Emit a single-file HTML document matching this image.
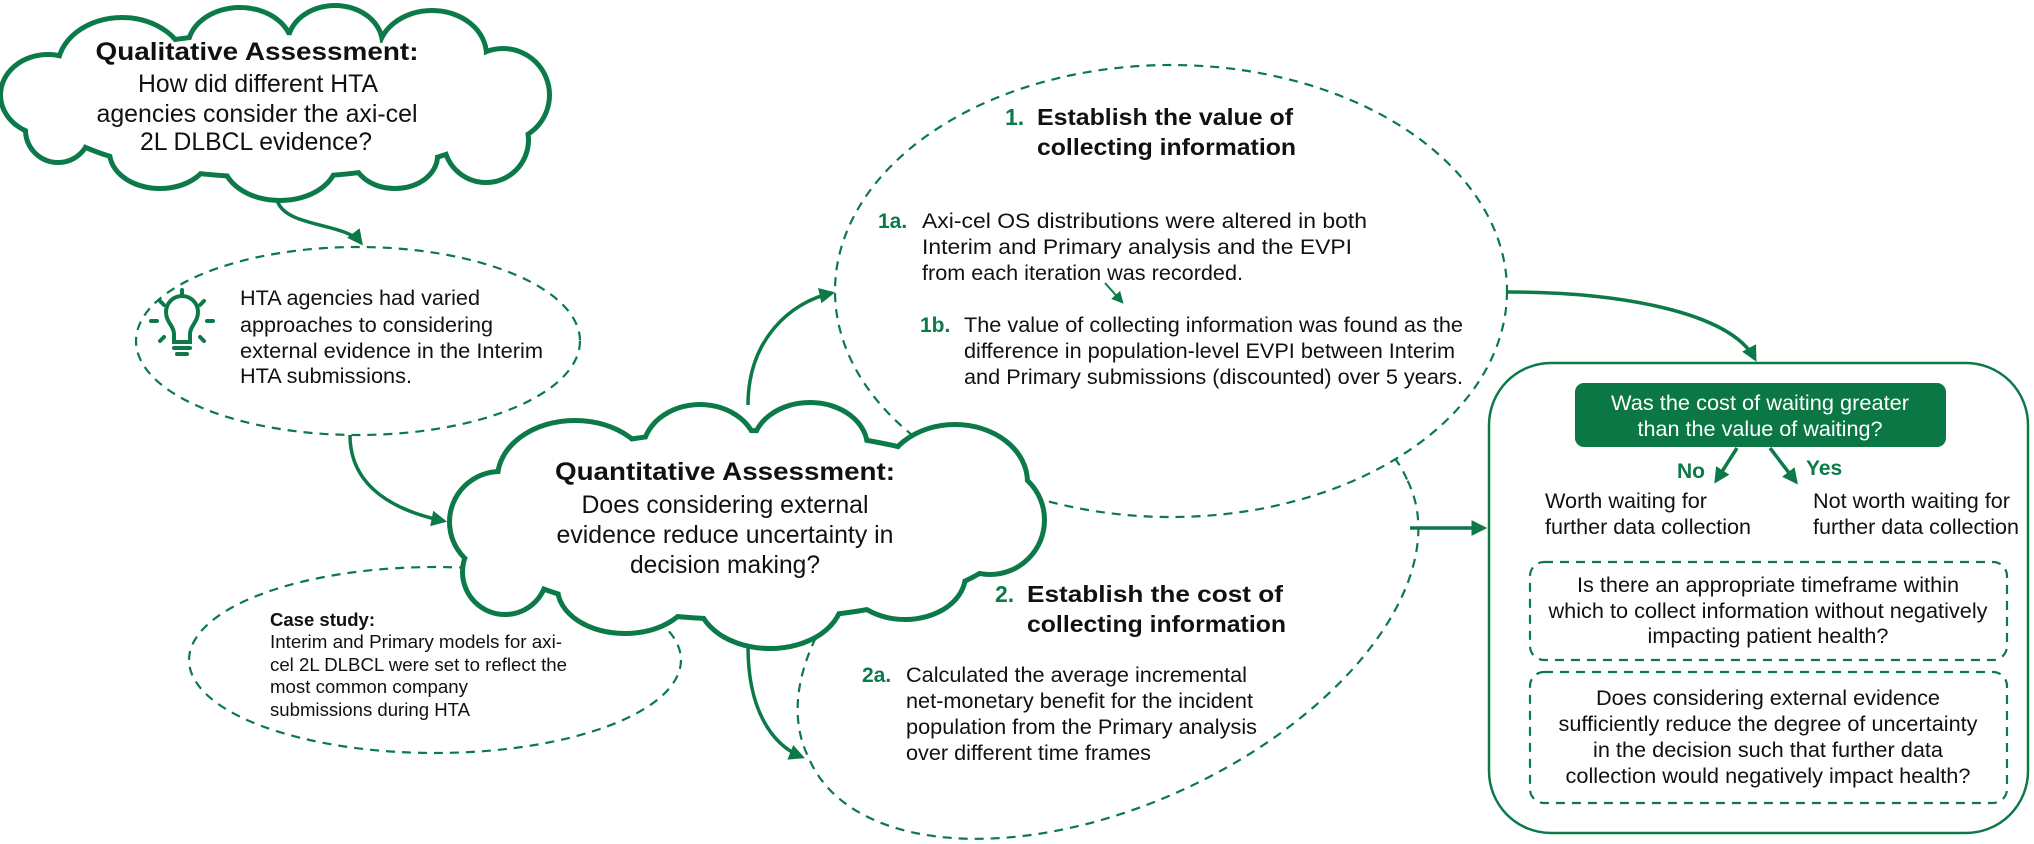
<!DOCTYPE html>
<html><head><meta charset="utf-8"><style>
html,body{margin:0;padding:0;background:#fff;overflow:hidden;}
svg{display:block;}
text{font-family:"Liberation Sans",Arial,sans-serif;fill:#111;}
.b{font-weight:bold;}
.g{fill:#0b7a48;font-weight:bold;}
.w{fill:#fff;}
</style></head><body>
<svg width="2034" height="844" viewBox="0 0 2034 844" xmlns="http://www.w3.org/2000/svg">
<defs>
<marker id="ah" viewBox="0 0 10 10" refX="8" refY="5" markerWidth="4.5" markerHeight="4.5" orient="auto-start-reverse">
<path d="M0,0 L10,5 L0,10 z" fill="#0b7a48"/></marker>
<marker id="ahs" viewBox="0 0 10 10" refX="8" refY="5" markerWidth="6" markerHeight="6" orient="auto">
<path d="M0,0 L10,5 L0,10 z" fill="#0b7a48"/></marker>
</defs>

<!-- dashed ellipses -->
<g fill="none" stroke="#0b7a48" stroke-width="2.2" stroke-dasharray="9 7">
<ellipse cx="435" cy="660" rx="246" ry="93"/>
<ellipse cx="358" cy="341" rx="222" ry="94" fill="#fff"/>
<path d="M1407,479.5 A330,183 -25 1 0 809,758.5 A330,183 -25 1 0 1407,479.5 Z"/>
<ellipse cx="1171" cy="291" rx="336" ry="226" fill="#fff"/>
</g>

<!-- connectors -->
<g fill="none" stroke="#0b7a48" stroke-width="3.5">
<path d="M277,200 C285,228 345,222 361,243" marker-end="url(#ah)"/>
<path d="M350,435 C350,490 400,512 444,521" marker-end="url(#ah)"/>
<path d="M748,405 C748,340 790,302 832,293" marker-end="url(#ah)"/>
<path d="M748,647 C748,710 772,745 802,757" marker-end="url(#ah)"/>
<path d="M1507,292 C1620,292 1730,312 1755,359" marker-end="url(#ah)"/>
<path d="M1410,528 L1484,528" marker-end="url(#ah)"/>
</g>
<path d="M1105,283 L1122,302" stroke="#0b7a48" stroke-width="2" fill="none" marker-end="url(#ahs)"/>

<!-- top cloud -->
<g stroke="#0b7a48" stroke-width="10" fill="#0b7a48">
<ellipse cx="122" cy="68" rx="62" ry="48"/><ellipse cx="240" cy="48" rx="50" ry="38"/><ellipse cx="335" cy="44" rx="45" ry="36"/>
<ellipse cx="432" cy="55" rx="52" ry="42"/><circle cx="503" cy="95" r="44"/><circle cx="486" cy="140" r="40"/>
<ellipse cx="395" cy="156" rx="40" ry="30"/><ellipse cx="280" cy="160" rx="55" ry="38"/><ellipse cx="160" cy="152" rx="48" ry="34"/>
<circle cx="58" cy="130" r="30"/><ellipse cx="48" cy="95" rx="45" ry="38"/><ellipse cx="275" cy="105" rx="230" ry="70"/>
</g>
<g fill="#fff">
<ellipse cx="122" cy="68" rx="62" ry="48"/><ellipse cx="240" cy="48" rx="50" ry="38"/><ellipse cx="335" cy="44" rx="45" ry="36"/>
<ellipse cx="432" cy="55" rx="52" ry="42"/><circle cx="503" cy="95" r="44"/><circle cx="486" cy="140" r="40"/>
<ellipse cx="395" cy="156" rx="40" ry="30"/><ellipse cx="280" cy="160" rx="55" ry="38"/><ellipse cx="160" cy="152" rx="48" ry="34"/>
<circle cx="58" cy="130" r="30"/><ellipse cx="48" cy="95" rx="45" ry="38"/><ellipse cx="275" cy="105" rx="230" ry="70"/>
</g>

<!-- quant cloud -->
<g stroke="#0b7a48" stroke-width="10" fill="#0b7a48">
<circle cx="500" cy="522" r="48"/><ellipse cx="575" cy="478" rx="75" ry="55"/><ellipse cx="700" cy="452" rx="55" ry="45"/>
<ellipse cx="810" cy="447" rx="55" ry="42"/><ellipse cx="955" cy="482" rx="70" ry="55"/><circle cx="990" cy="520" r="52"/>
<ellipse cx="905" cy="575" rx="58" ry="42"/><ellipse cx="770" cy="598" rx="70" ry="48"/><ellipse cx="625" cy="588" rx="65" ry="43"/>
<circle cx="505" cy="572" r="40"/><ellipse cx="745" cy="525" rx="270" ry="92"/>
</g>
<g fill="#fff">
<circle cx="500" cy="522" r="48"/><ellipse cx="575" cy="478" rx="75" ry="55"/><ellipse cx="700" cy="452" rx="55" ry="45"/>
<ellipse cx="810" cy="447" rx="55" ry="42"/><ellipse cx="955" cy="482" rx="70" ry="55"/><circle cx="990" cy="520" r="52"/>
<ellipse cx="905" cy="575" rx="58" ry="42"/><ellipse cx="770" cy="598" rx="70" ry="48"/><ellipse cx="625" cy="588" rx="65" ry="43"/>
<circle cx="505" cy="572" r="40"/><ellipse cx="745" cy="525" rx="270" ry="92"/>
</g>

<!-- lightbulb -->
<g stroke="#0b7a48" stroke-width="4" fill="none" stroke-linecap="round">
<path d="M174,342 L174,334 C174,326 166,322 166,312 A16,16 0 1 1 198,312 C198,322 190,326 190,334 L190,342 Z"/>
<line x1="174" y1="348" x2="190" y2="348"/>
<line x1="177" y1="354" x2="187" y2="354"/>
<line x1="182" y1="290" x2="182" y2="296"/>
<line x1="160" y1="301" x2="164" y2="305"/><line x1="204" y1="301" x2="200" y2="305"/>
<line x1="151" y1="321" x2="157" y2="321"/><line x1="207" y1="321" x2="213" y2="321"/>
<line x1="160" y1="341" x2="164" y2="337"/><line x1="204" y1="341" x2="200" y2="337"/>
</g>

<!-- right box -->
<rect x="1489" y="363" width="539" height="470" rx="62" fill="none" stroke="#0b7a48" stroke-width="2.5"/>
<rect x="1575" y="383" width="371" height="64" rx="9" fill="#0a7745"/>
<rect x="1530" y="562" width="477" height="98" rx="14" fill="none" stroke="#0b7a48" stroke-width="2.2" stroke-dasharray="9 7"/>
<rect x="1530" y="672" width="477" height="131" rx="14" fill="none" stroke="#0b7a48" stroke-width="2.2" stroke-dasharray="9 7"/>
<g stroke="#0b7a48" stroke-width="3.5" fill="none">
<path d="M1737,448 L1716,481" marker-end="url(#ah)"/>
<path d="M1770,448 L1796,482" marker-end="url(#ah)"/>
</g>

<!-- text: top cloud -->
<g text-anchor="middle" font-size="25">
<text x="257" y="60" class="b" textLength="323" lengthAdjust="spacingAndGlyphs">Qualitative Assessment:</text>
<text x="258" y="92" textLength="240" lengthAdjust="spacingAndGlyphs">How did different HTA</text>
<text x="257" y="122" textLength="321" lengthAdjust="spacingAndGlyphs">agencies consider the axi-cel</text>
<text x="256" y="150" textLength="232" lengthAdjust="spacingAndGlyphs">2L DLBCL evidence?</text>
</g>
<g font-size="21">
<text x="240" y="305" textLength="240" lengthAdjust="spacingAndGlyphs">HTA agencies had varied</text>
<text x="240" y="332" textLength="253" lengthAdjust="spacingAndGlyphs">approaches to considering</text>
<text x="240" y="358" textLength="303" lengthAdjust="spacingAndGlyphs">external evidence in the Interim</text>
<text x="240" y="383" textLength="172" lengthAdjust="spacingAndGlyphs">HTA submissions.</text>
</g>
<g text-anchor="middle" font-size="25">
<text x="725" y="480" class="b" textLength="340" lengthAdjust="spacingAndGlyphs">Quantitative Assessment:</text>
<text x="725" y="513" textLength="287" lengthAdjust="spacingAndGlyphs">Does considering external</text>
<text x="725" y="543" textLength="337" lengthAdjust="spacingAndGlyphs">evidence reduce uncertainty in</text>
<text x="725" y="573" textLength="190" lengthAdjust="spacingAndGlyphs">decision making?</text>
</g>
<g font-size="18">
<text x="270" y="626" class="b" textLength="105" lengthAdjust="spacingAndGlyphs">Case study:</text>
<text x="270" y="648" textLength="292" lengthAdjust="spacingAndGlyphs">Interim and Primary models for axi-</text>
<text x="270" y="671" textLength="297" lengthAdjust="spacingAndGlyphs">cel 2L DLBCL were set to reflect the</text>
<text x="270" y="693" textLength="198" lengthAdjust="spacingAndGlyphs">most common company</text>
<text x="270" y="716" textLength="200" lengthAdjust="spacingAndGlyphs">submissions during HTA</text>
</g>

<!-- ellipse 1 text -->
<g font-size="23">
<text x="1005" y="125" class="g">1.</text>
<text x="1037" y="125" class="b" textLength="256" lengthAdjust="spacingAndGlyphs">Establish the value of</text>
<text x="1037" y="155" class="b" textLength="259" lengthAdjust="spacingAndGlyphs">collecting information</text>
</g>
<g font-size="21">
<text x="878" y="228" class="g">1a.</text>
<text x="922" y="228" textLength="445" lengthAdjust="spacingAndGlyphs">Axi-cel OS distributions were altered in both</text>
<text x="922" y="254" textLength="430" lengthAdjust="spacingAndGlyphs">Interim and Primary analysis and the EVPI</text>
<text x="922" y="280" textLength="321" lengthAdjust="spacingAndGlyphs">from each iteration was recorded.</text>
<text x="920" y="332" class="g">1b.</text>
<text x="964" y="332" textLength="499" lengthAdjust="spacingAndGlyphs">The value of collecting information was found as the</text>
<text x="964" y="358" textLength="491" lengthAdjust="spacingAndGlyphs">difference in population-level EVPI between Interim</text>
<text x="964" y="384" textLength="499" lengthAdjust="spacingAndGlyphs">and Primary submissions (discounted) over 5 years.</text>
</g>

<!-- ellipse 2 text -->
<g font-size="23">
<text x="995" y="602" class="g">2.</text>
<text x="1027" y="602" class="b" textLength="256" lengthAdjust="spacingAndGlyphs">Establish the cost of</text>
<text x="1027" y="632" class="b" textLength="259" lengthAdjust="spacingAndGlyphs">collecting information</text>
</g>
<g font-size="21">
<text x="862" y="682" class="g">2a.</text>
<text x="906" y="682" textLength="341" lengthAdjust="spacingAndGlyphs">Calculated the average incremental</text>
<text x="906" y="708" textLength="347" lengthAdjust="spacingAndGlyphs">net-monetary benefit for the incident</text>
<text x="906" y="734" textLength="351" lengthAdjust="spacingAndGlyphs">population from the Primary analysis</text>
<text x="906" y="760" textLength="245" lengthAdjust="spacingAndGlyphs">over different time frames</text>
</g>

<!-- right box text -->
<g font-size="21" text-anchor="middle">
<text x="1760" y="410" class="w" textLength="298" lengthAdjust="spacingAndGlyphs">Was the cost of waiting greater</text>
<text x="1760" y="436" class="w" textLength="245" lengthAdjust="spacingAndGlyphs">than the value of waiting?</text>
</g>
<g font-size="21">
<text x="1677" y="478" class="g">No</text>
<text x="1806" y="475" class="g">Yes</text>
<text x="1545" y="508" textLength="162" lengthAdjust="spacingAndGlyphs">Worth waiting for</text>
<text x="1545" y="534" textLength="206" lengthAdjust="spacingAndGlyphs">further data collection</text>
<text x="1813" y="508" textLength="197" lengthAdjust="spacingAndGlyphs">Not worth waiting for</text>
<text x="1813" y="534" textLength="206" lengthAdjust="spacingAndGlyphs">further data collection</text>
</g>
<g font-size="21" text-anchor="middle">
<text x="1768" y="592" textLength="382" lengthAdjust="spacingAndGlyphs">Is there an appropriate timeframe within</text>
<text x="1768" y="618" textLength="439" lengthAdjust="spacingAndGlyphs">which to collect information without negatively</text>
<text x="1768" y="643" textLength="241" lengthAdjust="spacingAndGlyphs">impacting patient health?</text>
<text x="1768" y="705" textLength="344" lengthAdjust="spacingAndGlyphs">Does considering external evidence</text>
<text x="1768" y="731" textLength="419" lengthAdjust="spacingAndGlyphs">sufficiently reduce the degree of uncertainty</text>
<text x="1768" y="757" textLength="350" lengthAdjust="spacingAndGlyphs">in the decision such that further data</text>
<text x="1768" y="783" textLength="405" lengthAdjust="spacingAndGlyphs">collection would negatively impact health?</text>
</g>
</svg>
</body></html>
